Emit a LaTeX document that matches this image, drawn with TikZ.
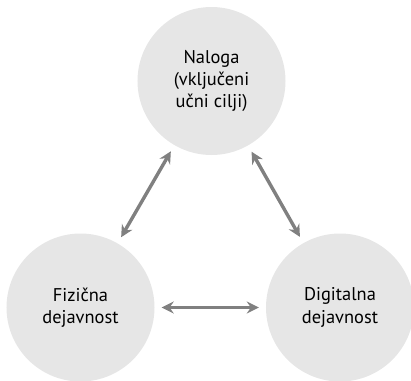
\documentclass[tikz,border=0pt]{standalone}
\usepackage{fontspec}
\setmainfont{PT Sans}
\usetikzlibrary{arrows.meta}
\definecolor{circfill}{HTML}{E6E6E6}
\definecolor{arrgray}{HTML}{808080}
\begin{document}
\begin{tikzpicture}[x=1bp,y=-1bp,
  circ/.style={circle,fill=circfill,minimum size=148bp,inner sep=0pt,align=center,
    font=\fontsize{18.5}{22.5}\selectfont},
  link/.style={draw=arrgray,line width=3.4bp,shorten <=7bp,shorten >=7bp,
    {Stealth[length=12bp,width=12bp,inset=4bp]}-{Stealth[length=12bp,width=12bp,inset=4bp]}}]
\useasboundingbox (0,0) rectangle (411,381);
\begin{scope}
\clip (0,0) rectangle (411,381);
\node[circ] (task) at (211.5,81) {Naloga\\(vključeni\\učni cilji)};
\node[circ] (phys) at (80.5,307.5) {Fizična\\dejavnost};
\node[circ] (dig) at (340,307.5) {Digitalna\\dejavnost};
\end{scope}
\draw[link] (phys) -- (task);
\draw[link] (task) -- (dig);
\draw[link] (phys) -- (dig);
\end{tikzpicture}
\end{document}
